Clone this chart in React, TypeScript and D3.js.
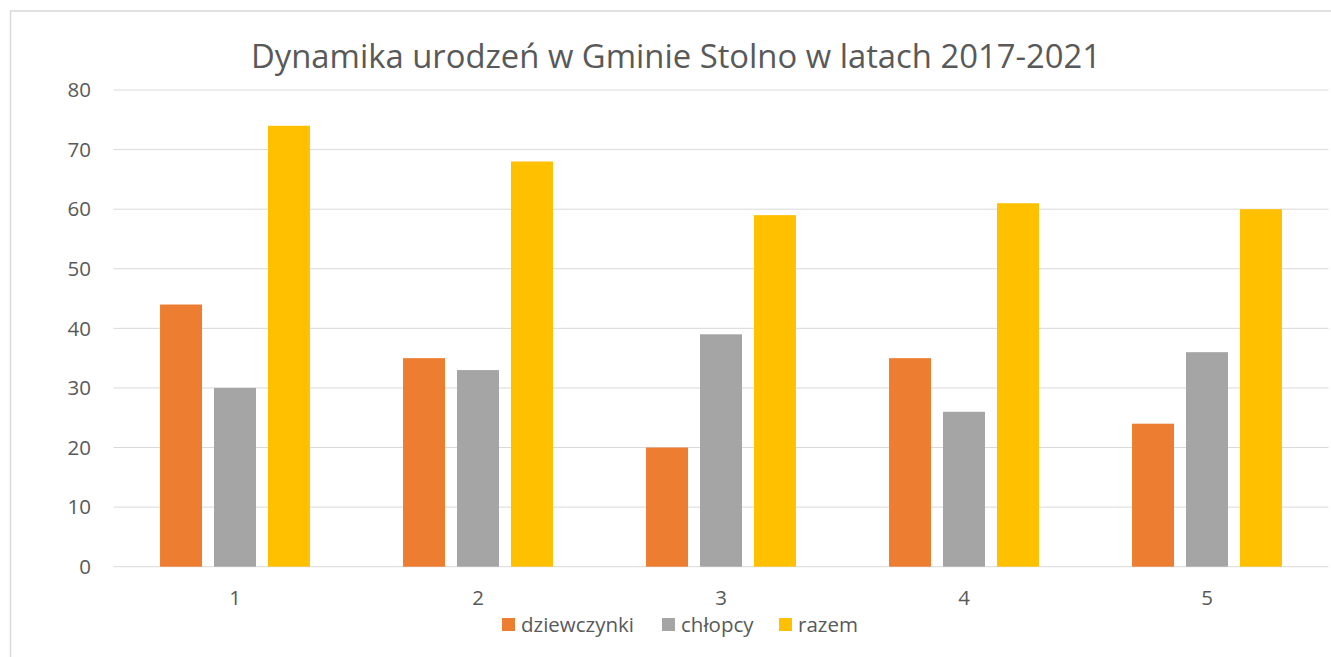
import React, { useEffect, useRef } from "react";
import * as d3 from "d3";

const WIDTH = 1331;
const HEIGHT = 657;
const MARGIN = { LEFT: 113.5, RIGHT: 2.5, TOP: 90, BOTTOM: 90 };

const TITLE = "Dynamika urodzeń w Gminie Stolno w latach 2017-2021";
const categories = ["1", "2", "3", "4", "5"];
const seriesNames = ["dziewczynki", "chłopcy", "razem"];
const dziewczynki = [44, 35, 20, 35, 24];
const chlopcy = [30, 33, 39, 26, 36];
const razem = [74, 68, 59, 61, 60];
const yTicks = [0, 10, 20, 30, 40, 50, 60, 70, 80];
const COLORS = ["#ED7D31", "#A5A5A5", "#FFC000"];
const FONT = "'Open Sans', 'Noto Sans', sans-serif";
const TEXT = "#595959";

export default function App() {
  const ref = useRef<SVGSVGElement | null>(null);

  useEffect(() => {
    const svg = d3.select(ref.current);
    svg.selectAll("*").remove();

    const series = [dziewczynki, chlopcy, razem];
    const innerW = WIDTH - MARGIN.LEFT - MARGIN.RIGHT;
    const y0 = 566.7;

    const y = d3.scaleLinear().domain([0, 80]).range([y0, MARGIN.TOP]);
    const x = d3
      .scaleBand()
      .domain(categories)
      .range([MARGIN.LEFT, MARGIN.LEFT + innerW])
      .paddingInner(0.383)
      .paddingOuter(0.383 / 2);
    const xs = d3
      .scaleBand()
      .domain(seriesNames)
      .range([0, x.bandwidth()])
      .paddingInner(0.222);

    // chart border (top + left visible)
    svg.append("line")
      .attr("x1", 10).attr("x2", WIDTH).attr("y1", 11).attr("y2", 11)
      .attr("stroke", "#D9D9D9").attr("stroke-width", 1.5);
    svg.append("line")
      .attr("x1", 10.5).attr("x2", 10.5).attr("y1", 11).attr("y2", HEIGHT)
      .attr("stroke", "#D9D9D9").attr("stroke-width", 1.5);

    // grid
    svg.append("g")
      .selectAll("line")
      .data(yTicks)
      .join("line")
      .attr("x1", MARGIN.LEFT)
      .attr("x2", MARGIN.LEFT + innerW)
      .attr("y1", (d) => y(d))
      .attr("y2", (d) => y(d))
      .attr("stroke", "#D9D9D9")
      .attr("stroke-width", 1);

    // y labels
    svg.append("g")
      .selectAll("text")
      .data(yTicks)
      .join("text")
      .attr("x", 91)
      .attr("y", (d) => y(d))
      .attr("dy", "0.35em")
      .attr("text-anchor", "end")
      .attr("font-family", FONT)
      .attr("font-size", 20.5)
      .attr("fill", TEXT)
      .text((d) => d);

    // bars
    seriesNames.forEach((name, si) => {
      svg.append("g")
        .selectAll("rect")
        .data(series[si])
        .join("rect")
        .attr("x", (d, i) => (x(categories[i]) ?? 0) + (xs(name) ?? 0))
        .attr("y", (d) => y(d))
        .attr("width", xs.bandwidth())
        .attr("height", (d) => y0 - y(d))
        .attr("fill", COLORS[si]);
    });

    // x labels
    svg.append("g")
      .selectAll("text")
      .data(categories)
      .join("text")
      .attr("x", (d) => (x(d) ?? 0) + x.bandwidth() / 2)
      .attr("y", 598)
      .attr("dy", "0.35em")
      .attr("text-anchor", "middle")
      .attr("font-family", FONT)
      .attr("font-size", 20.5)
      .attr("fill", TEXT)
      .text((d) => d);

    // title
    svg.append("text")
      .attr("x", 676)
      .attr("y", 68)
      .attr("text-anchor", "middle")
      .attr("font-family", FONT)
      .attr("font-size", 32.8)
      .attr("fill", TEXT)
      .text(TITLE);

    // legend
    const legendX = [502, 662, 779];
    const lg = svg.append("g");
    seriesNames.forEach((name, i) => {
      lg.append("rect")
        .attr("x", legendX[i])
        .attr("y", 618)
        .attr("width", 13)
        .attr("height", 13)
        .attr("fill", COLORS[i]);
      lg.append("text")
        .attr("x", legendX[i] + 19)
        .attr("y", 625)
        .attr("dy", "0.35em")
        .attr("font-family", FONT)
        .attr("font-size", 20.5)
        .attr("fill", TEXT)
        .text(name);
    });
  });

  return (
    <svg
      ref={ref}
      width={WIDTH}
      height={HEIGHT}
      style={{ position: "absolute", left: 0, top: 0, background: "#fff" }}
    />
  );
}
